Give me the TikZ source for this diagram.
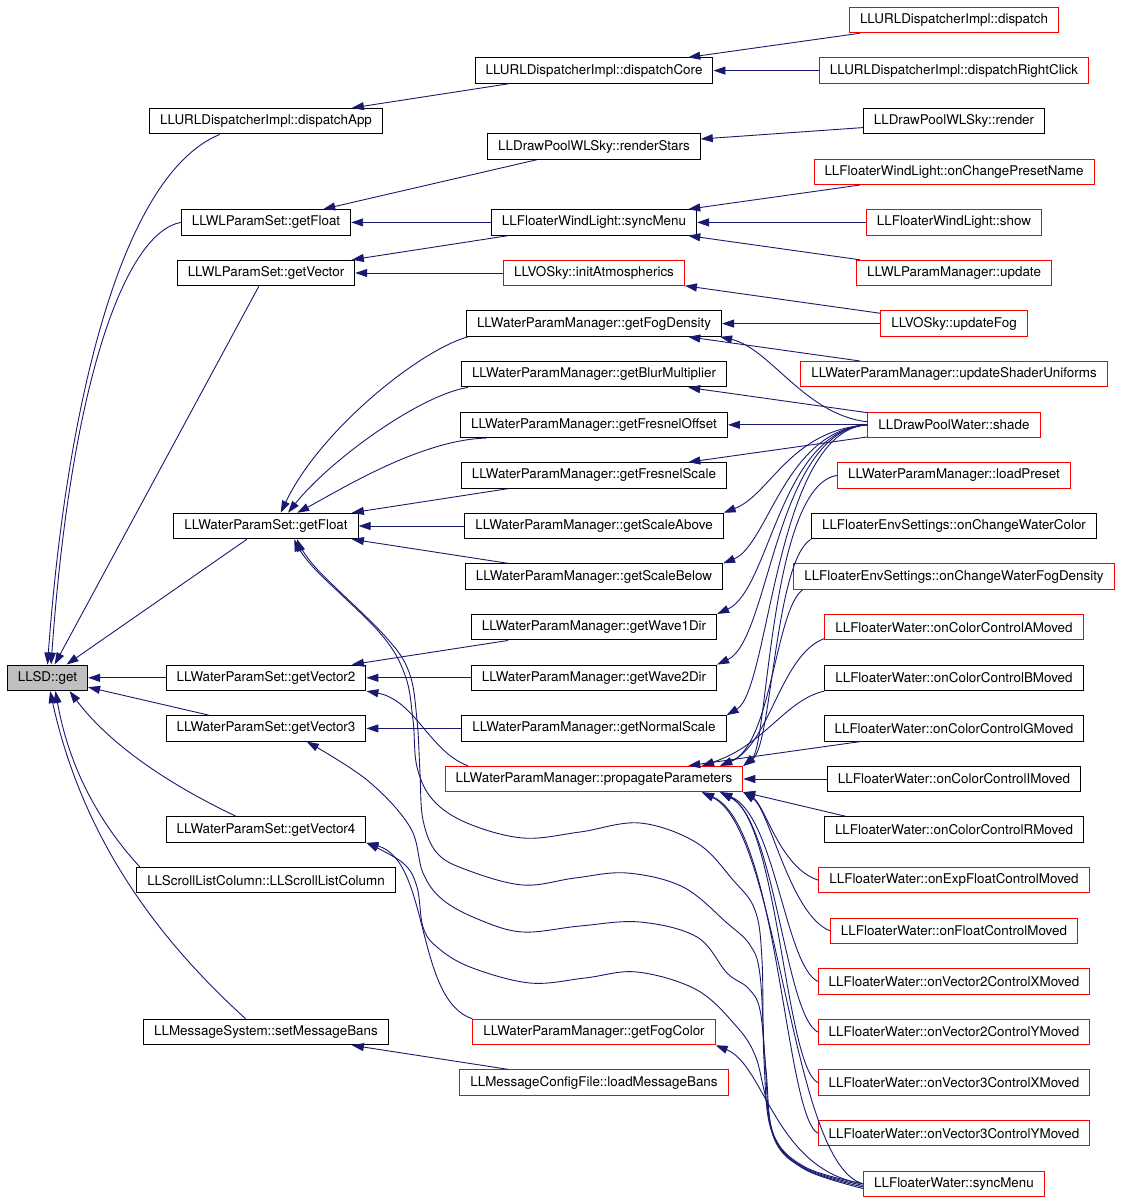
\documentclass[tikz,border=0pt]{standalone}
\usepackage{fontspec}
\setmainfont{TeX Gyre Heros}
\usetikzlibrary{arrows.meta}
\definecolor{edgeBlue}{RGB}{25,25,112}
\definecolor{rootGray}{RGB}{191,191,191}

\begin{document}
\begin{tikzpicture}
[x=1pt,y=-1pt,
  callDecorate/.style={-{Triangle[length=12pt,width=8pt]},draw=edgeBlue,line width=0.9pt},
  funcDecorate/.style={shape=rectangle,draw=black,line width=1pt,fill=white,
    inner xsep=10.5pt,inner ysep=0pt,minimum height=25.5pt,
    font=\fontsize{13.4}{16}\selectfont},
  redDecorate/.style={funcDecorate,draw=red},
  rootDecorate/.style={funcDecorate,fill=rootGray}]
\useasboundingbox (0,0) rectangle (1120,1203);
\fill[white] (0,0) rectangle (1120,1203);
%% functions, one row every 50.6px
\foreach \nodename/\x/\row/\kind/\fname in {
  get/47.5/13/rootDecorate/LLSD::get,
  dispatchApp/266/2/funcDecorate/LLURLDispatcherImpl::dispatchApp,
  wlFloat/266/4/funcDecorate/LLWLParamSet::getFloat,
  wlVector/266/5/funcDecorate/LLWLParamSet::getVector,
  waterFloat/266/10/funcDecorate/LLWaterParamSet::getFloat,
  vecTwo/266/13/funcDecorate/LLWaterParamSet::getVector2,
  vecThree/266/14/funcDecorate/LLWaterParamSet::getVector3,
  vecFour/266/16/funcDecorate/LLWaterParamSet::getVector4,
  scrollColumn/266/17/funcDecorate/LLScrollListColumn::LLScrollListColumn,
  msgBans/266/20/funcDecorate/LLMessageSystem::setMessageBans,
  dispatchCore/594/1/funcDecorate/LLURLDispatcherImpl::dispatchCore,
  renderStars/594/2.5/funcDecorate/LLDrawPoolWLSky::renderStars,
  wlSync/594/4/funcDecorate/LLFloaterWindLight::syncMenu,
  initAtmo/594/5/redDecorate/LLVOSky::initAtmospherics,
  fogDensity/594/6/funcDecorate/LLWaterParamManager::getFogDensity,
  blurMult/594/7/funcDecorate/LLWaterParamManager::getBlurMultiplier,
  fresnelOffset/594/8/funcDecorate/LLWaterParamManager::getFresnelOffset,
  fresnelScale/594/9/funcDecorate/LLWaterParamManager::getFresnelScale,
  scaleAbove/594/10/funcDecorate/LLWaterParamManager::getScaleAbove,
  scaleBelow/594/11/funcDecorate/LLWaterParamManager::getScaleBelow,
  waveOne/594/12/funcDecorate/LLWaterParamManager::getWave1Dir,
  waveTwo/594/13/funcDecorate/LLWaterParamManager::getWave2Dir,
  normalScale/594/14/funcDecorate/LLWaterParamManager::getNormalScale,
  propagate/594/15/redDecorate/LLWaterParamManager::propagateParameters,
  fogColor/594/20/redDecorate/LLWaterParamManager::getFogColor,
  loadBans/594/21/redDecorate/LLMessageConfigFile::loadMessageBans,
  dispatch/954/0/redDecorate/LLURLDispatcherImpl::dispatch,
  rightClick/954/1/redDecorate/LLURLDispatcherImpl::dispatchRightClick,
  render/954/2/funcDecorate/LLDrawPoolWLSky::render,
  presetName/954/3/redDecorate/LLFloaterWindLight::onChangePresetName,
  wlShow/954/4/redDecorate/LLFloaterWindLight::show,
  wlUpdate/954/5/redDecorate/LLWLParamManager::update,
  updateFog/954/6/redDecorate/LLVOSky::updateFog,
  shaderUniforms/954/7/redDecorate/LLWaterParamManager::updateShaderUniforms,
  shade/954/8/redDecorate/LLDrawPoolWater::shade,
  loadPreset/954/9/redDecorate/LLWaterParamManager::loadPreset,
  waterColor/954/10/funcDecorate/LLFloaterEnvSettings::onChangeWaterColor,
  waterFogDensity/954/11/redDecorate/LLFloaterEnvSettings::onChangeWaterFogDensity,
  colorA/954/12/redDecorate/LLFloaterWater::onColorControlAMoved,
  colorB/954/13/funcDecorate/LLFloaterWater::onColorControlBMoved,
  colorG/954/14/funcDecorate/LLFloaterWater::onColorControlGMoved,
  colorI/954/15/funcDecorate/LLFloaterWater::onColorControlIMoved,
  colorR/954/16/funcDecorate/LLFloaterWater::onColorControlRMoved,
  expFloat/954/17/redDecorate/LLFloaterWater::onExpFloatControlMoved,
  floatCtrl/954/18/redDecorate/LLFloaterWater::onFloatControlMoved,
  vecTwoX/954/19/redDecorate/LLFloaterWater::onVector2ControlXMoved,
  vecTwoY/954/20/redDecorate/LLFloaterWater::onVector2ControlYMoved,
  vecThreeX/954/21/redDecorate/LLFloaterWater::onVector3ControlXMoved,
  vecThreeY/954/22/redDecorate/LLFloaterWater::onVector3ControlYMoved,
  waterSync/954/23/redDecorate/LLFloaterWater::syncMenu}
{
  \node[\kind] (\nodename) at (\x,{20+50.6*\row}) {\fname};
}
%% straight calls, caller to callee
\path
\foreach \startnode/\endnode in {dispatch/dispatchCore, rightClick/dispatchCore,
  dispatchCore/dispatchApp, render/renderStars, renderStars/wlFloat,
  wlSync/wlFloat, wlSync/wlVector, presetName/wlSync, wlShow/wlSync,
  wlUpdate/wlSync, initAtmo/wlVector, updateFog/initAtmo, updateFog/fogDensity,
  shaderUniforms/fogDensity, shade/blurMult, shade/fresnelOffset,
  shade/fresnelScale, fresnelScale/waterFloat, scaleAbove/waterFloat,
  scaleBelow/waterFloat, waveOne/vecTwo, waveTwo/vecTwo, normalScale/vecThree,
  colorG/propagate, colorI/propagate, loadBans/msgBans, wlVector/get,
  waterFloat/get, vecTwo/get, vecThree/get}
{
  (\startnode) edge[callDecorate] (\endnode)
};
\draw[callDecorate] (colorR.173) -- (propagate.-5);
%% bent calls
\foreach \startnode/\ax/\ay/\bx/\by/\endnode in {
  dispatchApp.196/120/175/66/410/get.north,
  wlFloat.west/128/232/72/370/get.75,
  vecFour.156/170/785/110/745/get.-31,
  scrollColumn.174/115/840/72/785/get.-59,
  msgBans.147/170/950/85/850/get.-79,
  fogColor.north west/415/1000/430/860/vecFour.south east,
  propagate.174/430/752/415/700/vecTwo.south east,
  fogDensity.186/420/350/320/430/waterFloat.42,
  blurMult.186/420/395/330/460/waterFloat.31,
  fresnelOffset.187/420/440/340/490/waterFloat.23,
  shade.178/805/415/770/348/fogDensity.-6,
  shade.west/790/430/770/495/scaleAbove.north east,
  shade.west/785/430/768/545/scaleBelow.north east,
  shade.west/780/430/770/590/waveOne.north east,
  shade.west/775/430/770/640/waveTwo.north east,
  shade.west/775/430/770/690/normalScale.north east,
  loadPreset.west/770/485/768/745/propagate.5,
  waterColor.south west/775/560/772/745/propagate.5,
  waterFogDensity.185/775/610/772/745/propagate.6,
  colorA.185/780/655/770/745/propagate.6,
  colorB.south west/785/700/765/745/propagate.7,
  expFloat.west/780/868/765/805/propagate.-5,
  floatCtrl.west/790/915/770/810/propagate.-5,
  vecTwoX.west/785/965/775/815/propagate.-6,
  vecTwoY.west/785/1015/775/820/propagate.-6,
  vecThreeX.west/785/1065/778/820/propagate.-6,
  vecThreeY.west/785/1115/778/825/propagate.-7,
  waterSync.west/790/1165/780/830/propagate.-7,
  waterSync.west/775/1170/765/1065/fogColor.south east}
{
  \draw[callDecorate] (\startnode) .. controls (\ax,\ay) and (\bx,\by) .. (\endnode);
}
%% long calls of LLFloaterWater::syncMenu
\draw[callDecorate] plot[smooth,tension=0.6] coordinates {(waterSync.west) (805,1167)
  (772,1132) (764,1060) (762,960) (755,910) (733,880) (697,843) (640,823) (580,832)
  (523,838) (467,823) (433,800) (417,767) (413,720) (405,675) (380,633) (313,567)
  (waterFloat.-25)};
\draw[callDecorate] plot[smooth,tension=0.6] coordinates {(waterSync.181) (805,1168)
  (773,1135) (765,1060) (760,975) (750,945) (727,923) (683,887) (627,873) (575,878)
  (523,885) (467,870) (437,853) (423,820) (420,773) (417,720) (409,672) (384,635)
  (316,568) (waterFloat.-23)};
\draw[callDecorate] plot[smooth,tension=0.6] coordinates {(waterSync.182) (805,1169)
  (774,1138) (766,1070) (760,1010) (748,988) (727,973) (697,937) (640,922) (580,926)
  (523,932) (480,920) (443,900) (423,873) (410,827) (367,780) (vecThree.-18)};
\draw[callDecorate] plot[smooth,tension=0.6] coordinates {(waterSync.183) (806,1170)
  (776,1140) (764,1090) (755,1055) (737,1027) (697,990) (637,972) (585,978)
  (530,983) (470,967) (437,947) (423,927) (417,887) (403,863) (vecFour.south east)};
\end{tikzpicture}
\end{document}
